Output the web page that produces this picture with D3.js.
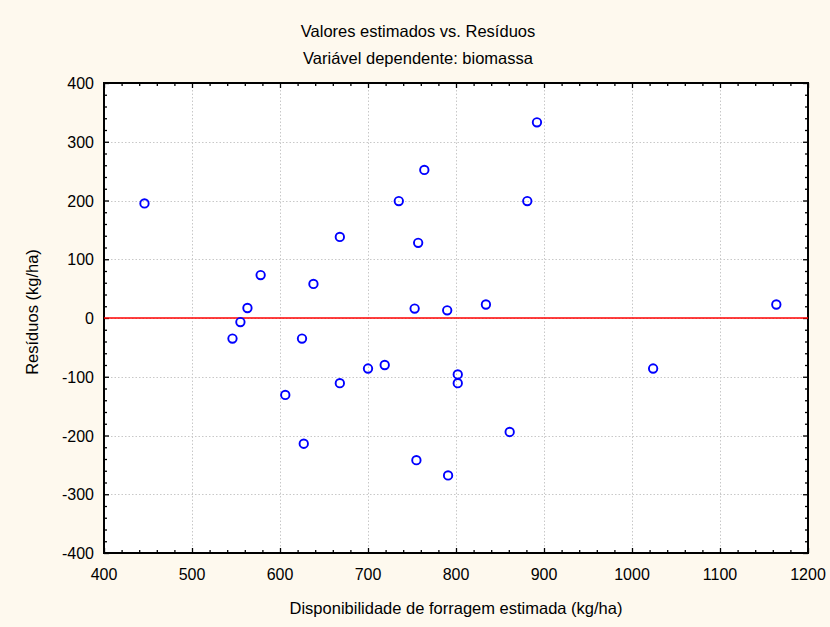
<!DOCTYPE html>
<html>
<head>
<meta charset="utf-8">
<script src="https://cdn.jsdelivr.net/npm/d3@7"></script>
<style>
  html, body { margin: 0; padding: 0; background: #fef9ee; }
  svg { display: block; font-family: "Liberation Sans", Arial, sans-serif; }
</style>
</head>
<body>
<svg id="chart" width="830" height="627"></svg>
<script>
// Estimated forage availability (kg/ha) and residuals (kg/ha)
const estimated = [446, 546, 555, 563, 578, 606, 625, 627, 638, 668, 668, 700, 719, 735,
                   753, 755, 757, 764, 790, 791, 802, 802, 834, 861, 881, 892, 1024, 1164];
const residuals = [195, -35, -7, 17, 73, -131, -35, -214, 58, 138, -111, -86, -80, 199,
                   16, -242, 128, 252, 13, -268, -96, -111, 23, -194, 199, 333, -86, 23];

// Fitted line of residuals on estimated values
const fitX = [400, 1200];
const fitY = [0, 0];

const xTicks = [400, 500, 600, 700, 800, 900, 1000, 1100, 1200];
const yTicks = [-400, -300, -200, -100, 0, 100, 200, 300, 400];

const titleLines = ["Valores estimados vs. Resíduos", "Variável dependente: biomassa"];
const xTitle = "Disponibilidade de forragem estimada (kg/ha)";
const yTitle = "Resíduos (kg/ha)";

const svg = d3.select("#chart");
const W = 830, H = 627;
const m = { left: 104, top: 83, right: 22, bottom: 74 };
const pw = W - m.left - m.right, ph = H - m.top - m.bottom;

svg.append("rect").attr("width", W).attr("height", H).attr("fill", "#fef9ee");

const x = d3.scaleLinear().domain([400, 1200]).range([m.left, m.left + pw]);
const y = d3.scaleLinear().domain([-400, 400]).range([m.top + ph, m.top]);

svg.append("rect")
  .attr("x", m.left).attr("y", m.top).attr("width", pw).attr("height", ph)
  .attr("fill", "#ffffff");

// Dotted grid
const grid = svg.append("g").attr("stroke", "#c8c8c8").attr("stroke-width", 1)
  .attr("stroke-dasharray", "1.5,2");
grid.selectAll(".gx").data(xTicks.slice(1, -1)).join("line")
  .attr("x1", d => Math.round(x(d)) + 0.5).attr("x2", d => Math.round(x(d)) + 0.5)
  .attr("y1", m.top).attr("y2", m.top + ph);
grid.selectAll(".gy").data(yTicks.slice(1, -1)).join("line")
  .attr("y1", d => Math.round(y(d)) + 0.5).attr("y2", d => Math.round(y(d)) + 0.5)
  .attr("x1", m.left).attr("x2", m.left + pw);

// Inward ticks on all four sides
const minorX = d3.range(400, 1201, 20);
const minorY = d3.range(-400, 401, 20);
const tickLen = v => (v % 100 === 0 ? 5 : 3);

function addAxis(g, scale, values, side) {
  const axis = (side === "bottom" ? d3.axisBottom : side === "top" ? d3.axisTop :
                side === "left" ? d3.axisLeft : d3.axisRight)(scale)
    .tickValues(values).tickSize(0).tickFormat("");
  g.call(axis);
  g.select(".domain").remove();
  g.selectAll(".tick line").remove();
  g.selectAll(".tick").append("line")
    .attr("stroke", "#000").attr("stroke-width", 1.3)
    .each(function (d) {
      const L = tickLen(d), s = d3.select(this);
      if (side === "bottom") s.attr("y1", 0).attr("y2", -L);
      if (side === "top") s.attr("y1", 0).attr("y2", L);
      if (side === "left") s.attr("x1", 0).attr("x2", L);
      if (side === "right") s.attr("x1", 0).attr("x2", -L);
    });
}
addAxis(svg.append("g").attr("transform", `translate(0,${m.top + ph})`), x, minorX, "bottom");
addAxis(svg.append("g").attr("transform", `translate(0,${m.top})`), x, minorX, "top");
addAxis(svg.append("g").attr("transform", `translate(${m.left},0)`), y, minorY, "left");
addAxis(svg.append("g").attr("transform", `translate(${m.left + pw},0)`), y, minorY, "right");

// Frame
svg.append("rect")
  .attr("x", m.left).attr("y", m.top).attr("width", pw).attr("height", ph)
  .attr("fill", "none").attr("stroke", "#000").attr("stroke-width", 2);

// Tick labels
svg.append("g").selectAll("text").data(xTicks).join("text")
  .attr("x", d => x(d)).attr("y", m.top + ph + 27)
  .attr("text-anchor", "middle").attr("font-size", 16).attr("fill", "#000")
  .text(d => d);
svg.append("g").selectAll("text").data(yTicks).join("text")
  .attr("x", m.left - 10).attr("y", d => y(d) + 6)
  .attr("text-anchor", "end").attr("font-size", 16).attr("fill", "#000")
  .text(d => d);

// Fitted line
svg.append("path")
  .datum(fitX.map((v, i) => [v, fitY[i]]))
  .attr("d", d3.line().x(d => x(d[0])).y(d => y(d[1])))
  .attr("stroke", "#ff0000").attr("stroke-width", 1.5).attr("fill", "none");

// Residual points
svg.append("g").selectAll("circle").data(estimated.map((v, i) => [v, residuals[i]])).join("circle")
  .attr("cx", d => x(d[0])).attr("cy", d => y(d[1])).attr("r", 4.2)
  .attr("fill", "none").attr("stroke", "#0000ff").attr("stroke-width", 1.9);

// Titles
svg.append("g").selectAll("text").data(titleLines).join("text")
  .attr("x", 418).attr("y", (d, i) => 37 + i * 27)
  .attr("text-anchor", "middle").attr("font-size", 16.5).attr("fill", "#000")
  .text(d => d);
svg.append("text")
  .attr("x", m.left + pw / 2).attr("y", 614)
  .attr("text-anchor", "middle").attr("font-size", 16.5).attr("fill", "#000")
  .text(xTitle);
svg.append("text")
  .attr("transform", `translate(38,312) rotate(-90)`)
  .attr("text-anchor", "middle").attr("font-size", 16.5).attr("fill", "#000")
  .text(yTitle);
</script>
</body>
</html>
